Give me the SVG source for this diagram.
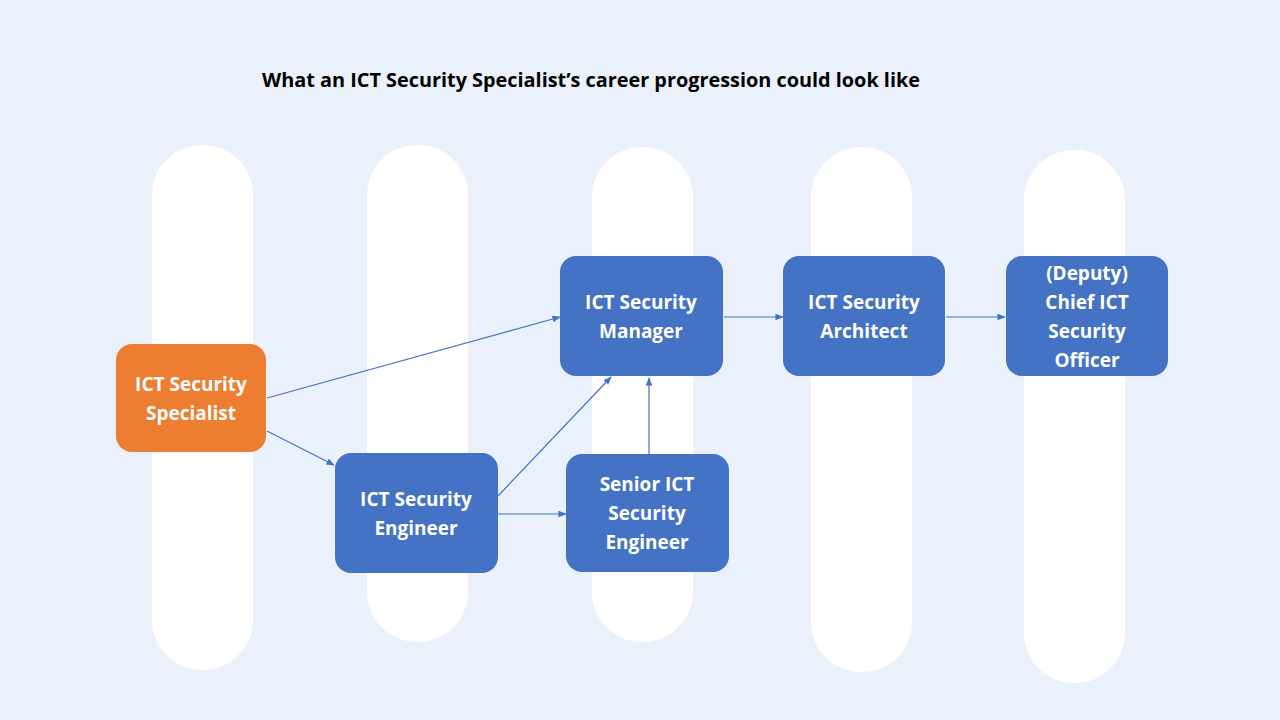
<svg xmlns="http://www.w3.org/2000/svg" width="1280" height="720" viewBox="0 0 1280 720">
<defs>
<marker id="ah" viewBox="0 0 10 10" refX="9" refY="5" markerWidth="7" markerHeight="7" orient="auto"><path d="M0,1 L10,5 L0,9 z" fill="#4472C4"/></marker>
<style>
.p{fill:#fff}
.n{fill:#4472C4}
.o{fill:#ED7D31}
.t{font-family:"Open Sans","Liberation Sans",sans-serif;font-weight:bold;font-size:19px;fill:#fff;text-anchor:middle}
.c line{stroke:#4472C4;stroke-width:1.2;marker-end:url(#ah)}
</style>
</defs>
<rect width="1280" height="720" fill="#EAF1FB"/>
<text x="262" y="87" font-family="Open Sans, Liberation Sans, sans-serif" font-weight="bold" font-size="19.8" fill="#000" textLength="658" lengthAdjust="spacingAndGlyphs">What an ICT Security Specialist’s career progression could look like</text>
<g id="pillars">
<rect class="p" x="152" y="145" width="101" height="525" rx="50"/>
<rect class="p" x="367" y="145" width="101" height="497" rx="50"/>
<rect class="p" x="592" y="147" width="101" height="495" rx="50"/>
<rect class="p" x="811" y="147" width="101" height="525" rx="50"/>
<rect class="p" x="1024" y="150" width="101" height="533" rx="50"/>
</g>
<g class="c" id="connectors">
<line x1="267" y1="398" x2="560" y2="317"/>
<line x1="267" y1="431" x2="334" y2="465"/>
<line x1="498" y1="496" x2="611" y2="377"/>
<line x1="498" y1="514" x2="566" y2="514"/>
<line x1="649" y1="454" x2="649" y2="378"/>
<line x1="724" y1="317" x2="783" y2="317"/>
<line x1="946" y1="317" x2="1005" y2="317"/>
</g>
<g id="specialist"><rect class="o" x="116" y="344" width="150" height="108" rx="16"/><text class="t" x="191" y="391">ICT Security</text><text class="t" x="191" y="420">Specialist</text></g>
<g id="engineer"><rect class="n" x="335" y="453" width="163" height="120" rx="16"/><text class="t" x="416" y="506">ICT Security</text><text class="t" x="416" y="535">Engineer</text></g>
<g id="manager"><rect class="n" x="560" y="256" width="163" height="120" rx="16"/><text class="t" x="641" y="309">ICT Security</text><text class="t" x="641" y="338">Manager</text></g>
<g id="senior"><rect class="n" x="566" y="454" width="163" height="118" rx="16"/><text class="t" x="647" y="491">Senior ICT</text><text class="t" x="647" y="520">Security</text><text class="t" x="647" y="549">Engineer</text></g>
<g id="architect"><rect class="n" x="783" y="256" width="162" height="120" rx="16"/><text class="t" x="864" y="309">ICT Security</text><text class="t" x="864" y="338">Architect</text></g>
<g id="chief"><rect class="n" x="1006" y="256" width="162" height="120" rx="16"/><text class="t" x="1087" y="280">(Deputy)</text><text class="t" x="1087" y="309">Chief ICT</text><text class="t" x="1087" y="338">Security</text><text class="t" x="1087" y="367">Officer</text></g>
</svg>
